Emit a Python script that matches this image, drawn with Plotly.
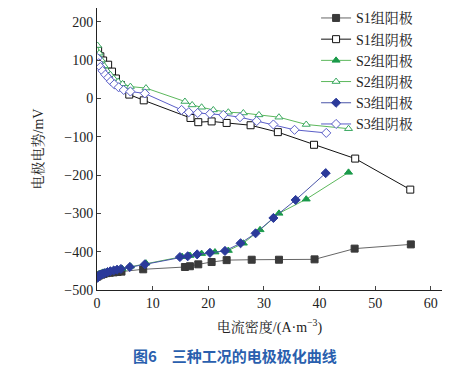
import plotly.graph_objects as go

# Data
s1_anode_x = [0.1, 0.4, 0.8, 1.2, 1.7, 2.3, 3.0, 3.7, 4.4, 8.3, 15.8, 16.7, 18.2, 20.6, 23.3, 27.8, 32.7, 39.1, 46.3, 56.4]
s1_anode_y = [-465, -462, -460, -458, -456, -455, -454, -453, -452, -446, -440, -438, -433, -427, -422, -421, -421, -420, -392, -381]

s1_cath_x = [0.2, 0.6, 1.1, 2.0, 2.7, 3.4, 4.3, 5.8, 8.4, 16.8, 18.2, 20.6, 23.3, 27.6, 32.5, 39.0, 46.4, 56.3]
s1_cath_y = [125, 110, 99, 88, 70, 52, 35, 10, -5, -51, -62, -60, -64, -70, -88, -121, -157, -238]

s2_anode_x = [0.1, 0.4, 0.8, 1.2, 1.7, 2.3, 3.0, 3.7, 4.5, 6.0, 8.8, 15.3, 16.7, 18.8, 21.2, 23.6, 26.3, 29.3, 32.7, 37.6, 45.2]
s2_anode_y = [-462, -458, -456, -454, -452, -450, -448, -446, -444, -438, -430, -413, -410, -405, -401, -397, -378, -343, -300, -263, -193]

s2_cath_x = [0.1, 0.4, 0.8, 1.3, 1.8, 2.4, 3.0, 3.8, 4.6, 6.0, 8.8, 15.8, 17.1, 18.8, 20.9, 23.6, 26.3, 29.1, 32.7, 37.6, 45.2]
s2_cath_y = [138, 118, 100, 85, 72, 62, 52, 44, 38, 31, 27, -8, -17, -23, -30, -36, -38, -43, -49, -68, -79]

s3_anode_x = [0.1, 0.3, 0.6, 1.0, 1.4, 1.9, 2.4, 3.0, 3.6, 4.3, 5.9, 8.6, 14.9, 16.3, 18.0, 20.3, 23.0, 25.8, 28.5, 31.7, 35.7, 41.1]
s3_anode_y = [-468, -463, -460, -458, -456, -453, -451, -449, -447, -445, -440, -433, -414, -412, -407, -403, -398, -378, -352, -312, -265, -195]

s3_cath_x = [0.1, 0.3, 0.6, 1.0, 1.5, 2.0, 2.5, 3.1, 3.9, 4.8, 6.0, 8.6, 15.2, 16.5, 18.1, 20.3, 22.7, 25.7, 28.7, 31.7, 35.5, 41.2]
s3_cath_y = [105, 92, 82, 72, 62, 54, 45, 37, 29, 22, 18, 13, -30, -36, -38, -40, -43, -49, -59, -68, -82, -90]

names = ["S1组阳极", "S1组阴极", "S2组阳极", "S2组阴极", "S3组阳极", "S3组阴极"]
x_tick_vals = [0, 10, 20, 30, 40, 50, 60]
y_tick_vals = [-500, -400, -300, -200, -100, 0, 100, 200]

series = [
    (s1_anode_x, s1_anode_y, "square", "#3a3a3a", "#3a3a3a", "#666666"),
    (s1_cath_x, s1_cath_y, "square", "white", "#111111", "#111111"),
    (s2_anode_x, s2_anode_y, "triangle-up", "#1a9a4a", "#1a9a4a", "#5cb85c"),
    (s2_cath_x, s2_cath_y, "triangle-up", "white", "#3aa860", "#5cb85c"),
    (s3_anode_x, s3_anode_y, "diamond", "#2b3a9a", "#2b3a9a", "#4a55a8"),
    (s3_cath_x, s3_cath_y, "diamond", "white", "#5a5ec8", "#5a5ec8"),
]

fig = go.Figure()
for (xs, ys, sym, fill, edge, lc), nm in zip(series, names):
    fig.add_trace(go.Scatter(
        x=xs, y=ys, name=nm, mode="lines+markers",
        line=dict(color=lc, width=1),
        marker=dict(symbol=sym, size=7, color=fill, line=dict(color=edge, width=1)),
    ))

serif = "Liberation Serif, Noto Serif CJK SC, Noto Sans CJK SC, serif"

fig.update_layout(
    width=460, height=366,
    margin=dict(l=89, r=26, t=0, b=84, autoexpand=False),
    paper_bgcolor="white", plot_bgcolor="white",
    font=dict(family=serif, size=14, color="#222222"),
    showlegend=True,
    legend=dict(
        x=0.635, y=1.02, xanchor="left", yanchor="top",
        bgcolor="rgba(0,0,0,0)", font=dict(size=14, family=serif),
        tracegroupgap=0, itemwidth=30,
    ),
    xaxis=dict(
        range=[0, 62], tickvals=x_tick_vals, ticks="inside", ticklen=4,
        showline=True, linecolor="#222222", linewidth=1, showgrid=False, zeroline=False,
        title=dict(text="电流密度/(A·m<sup>−3</sup>)", font=dict(size=14), standoff=12),
        tickfont=dict(size=14), automargin=False,
    ),
    yaxis=dict(
        range=[-500, 236], tickvals=y_tick_vals, ticks="inside", ticklen=4,
        showline=True, linecolor="#222222", linewidth=1, showgrid=False, zeroline=False,
        title=dict(text="电极电势/mV", font=dict(size=14), standoff=17),
        tickfont=dict(size=14), automargin=False,
    ),
    annotations=[dict(
        text="<b>图6　三种工况的电极极化曲线</b>", xref="paper", yref="paper",
        x=0.4, y=-0.234, xanchor="center", yanchor="middle", showarrow=False,
        font=dict(size=15, color="#2a5fae", family="Noto Sans CJK SC, sans-serif"),
    )],
)

fig.write_html("out.html")
